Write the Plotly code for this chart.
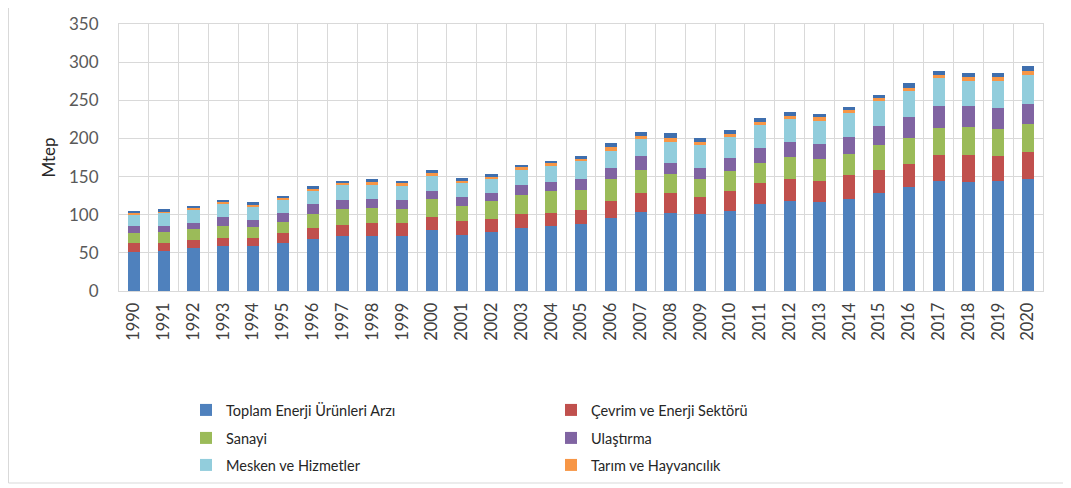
import plotly.graph_objects as go

years = [str(y) for y in range(1990, 2021)]

toplam = [51.6, 52.9, 55.9, 58.5, 58.5, 62.9, 68.6, 72.5, 72.5, 72.5, 79.9,
          73.8, 76.9, 82.6, 85.2, 88.2, 95.2, 104.0, 101.8, 100.9, 105.3,
          113.6, 118.0, 116.2, 120.6, 128.9, 135.9, 144.2, 142.9, 144.2, 147.2]
cevrim = [10.9, 9.6, 10.9, 11.4, 11.0, 12.7, 13.5, 14.0, 17.1, 17.1, 16.6,
          18.4, 17.0, 17.9, 17.0, 18.0, 22.3, 24.0, 26.2, 22.7, 26.2,
          27.9, 28.4, 28.0, 31.0, 29.7, 31.0, 34.5, 35.8, 32.7, 35.4]
sanayi = [13.1, 14.4, 14.4, 15.3, 14.4, 15.3, 18.8, 21.0, 19.2, 17.9, 24.1,
          19.6, 23.6, 25.8, 28.4, 26.6, 29.7, 30.6, 24.9, 22.8, 25.3,
          26.7, 29.2, 28.4, 28.0, 32.3, 34.1, 34.9, 35.8, 35.0, 36.3]
ulastirma = [9.6, 8.7, 8.3, 11.4, 9.6, 11.3, 12.7, 11.3, 11.8, 11.3, 10.9,
             11.8, 11.4, 13.1, 12.3, 14.4, 14.0, 18.3, 15.3, 14.8, 17.1,
             18.8, 19.2, 19.7, 22.7, 25.4, 26.6, 29.3, 28.4, 28.4, 26.6]
mesken = [15.7, 17.5, 17.9, 17.5, 17.9, 17.1, 17.9, 20.6, 18.8, 20.1, 20.5,
          18.4, 18.8, 20.1, 22.2, 23.6, 22.7, 22.3, 26.6, 30.2, 28.4,
          30.6, 30.2, 30.9, 31.4, 33.2, 34.1, 35.8, 32.8, 35.4, 37.2]
tarim = [2.2, 1.7, 1.7, 2.2, 2.2, 2.2, 2.6, 2.1, 3.5, 2.6, 2.2,
         2.6, 2.1, 2.6, 2.2, 2.2, 4.4, 4.4, 6.2, 4.3, 3.5,
         3.9, 4.4, 4.4, 3.5, 3.0, 4.3, 4.0, 4.3, 4.8, 5.6]
diger = [2.2, 2.2, 2.2, 3.1, 2.6, 3.0, 3.5, 2.7, 3.4, 2.7, 4.4,
         3.1, 3.1, 3.5, 3.5, 3.9, 5.2, 5.2, 5.6, 5.3, 5.2,
         4.8, 5.2, 4.4, 4.4, 4.8, 6.2, 6.1, 6.2, 5.7, 6.6]

series = [
    ("Toplam Enerji Ürünleri Arzı", toplam, "#4f81bd", "legend"),
    ("Çevrim ve Enerji Sektörü", cevrim, "#c0504d", "legend"),
    ("Sanayi", sanayi, "#9bbb59", "legend2"),
    ("Ulaştırma", ulastirma, "#8064a2", "legend2"),
    ("Mesken ve Hizmetler", mesken, "#92cddc", "legend3"),
    ("Tarım ve Hayvancılık", tarim, "#f79646", "legend3"),
]

FONT = "Lato"
fig = go.Figure()
for name, vals, color, lg in series:
    fig.add_trace(go.Bar(x=years, y=vals, name=name, marker_color=color,
                         marker_line_width=0, legend=lg))
fig.add_trace(go.Bar(x=years, y=diger, name="Diğer", marker_color="#3f6fae",
                     marker_line_width=0, showlegend=False))

# page body has an 8px margin: figure is offset by (8, 8) in the window
OFF = 8
W, H = 1071 - OFF, 488 - OFF
L, R, T, B = 119 - OFF, 28, 24 - OFF, 197
PW, PH = W - L - R, H - T - B


def cx(x):
    return (x - OFF) / W


def cy(y):
    return 1 - (y - OFF) / H


leg_common = dict(orientation="h", xanchor="left", yanchor="middle",
                  xref="container", yref="container",
                  entrywidth=320, entrywidthmode="pixels", traceorder="normal",
                  font=dict(family=FONT, size=14.5, color="#262626"),
                  bgcolor="rgba(0,0,0,0)", itemclick=False)

LX = 186
fig.update_layout(
    width=W, height=H,
    margin=dict(l=L, r=R, t=T, b=B, autoexpand=False),
    barmode="stack", bargap=0.59,
    paper_bgcolor="white", plot_bgcolor="white",
    font=dict(family=FONT, size=14, color="#595959"),
    legend=dict(x=cx(LX), y=cy(410), **leg_common),
    legend2=dict(x=cx(LX), y=cy(438), **leg_common),
    legend3=dict(x=cx(LX), y=cy(465), **leg_common),
    xaxis=dict(type="category", tickson="boundaries", showgrid=True,
               gridcolor="#d9d9d9", gridwidth=1, tickangle=-90,
               showline=True, linecolor="#d9d9d9", mirror=True,
               ticks="", automargin=False, ticklabelstandoff=4,
               tickfont=dict(family=FONT, size=16.5, color="#404040")),
    yaxis=dict(range=[0, 350], dtick=50, showgrid=True, gridcolor="#d9d9d9",
               gridwidth=1, showline=True, linecolor="#d9d9d9", mirror=True,
               zeroline=False, ticks="", ticklabelstandoff=16, automargin=False,
               tickfont=dict(family=FONT, size=17, color="#595959"),
               title=dict(text="Mtep", font=dict(family=FONT, size=17, color="#262626"),
                          standoff=9)),
    shapes=[dict(type="rect", xref="paper", yref="paper",
                 x0=(0.5 - L) / PW, x1=(1066 - OFF - L) / PW,
                 y0=(H - B - (483 - OFF)) / PH, y1=(H - B + 10) / PH,
                 line=dict(color="#d9d9d9", width=1), fillcolor="rgba(0,0,0,0)",
                 layer="below")],
)

fig.write_html("out.html")
